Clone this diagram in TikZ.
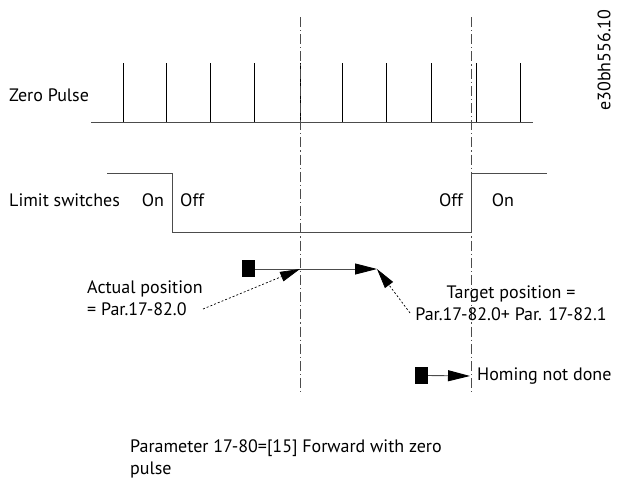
\documentclass[tikz,border=0pt]{standalone}
\usepackage{fontspec}
\setmainfont{PT Sans}
\usepackage{tikz}
\usetikzlibrary{shapes,positioning,arrows.meta,backgrounds,fit}

\tikzset{
  sig/.style={draw=black!70, line width=0.9pt},
  tck/.style={draw=black, line width=0.9pt},
  axis/.style={draw=black!70, line width=0.9pt,
               dash pattern=on 10pt off 3pt on 1.2pt off 3pt},
  lbl/.style={font=\fontsize{18}{22}\selectfont, inner sep=0pt},
  blk/.style={fill=black, minimum width=13pt, minimum height=17pt, inner sep=0pt},
  mv/.style={draw=black!70, line width=0.9pt,
             -{Triangle[length=22pt,width=11pt,color=black]}},
  ptr/.style={draw=black, line width=0.7pt, dash pattern=on 2pt off 2pt,
              -{Triangle[length=20pt,width=10pt]}}
}

\begin{document}
\begin{tikzpicture}[x=1pt, y=-1pt]
  \useasboundingbox (0,0) rectangle (617,482);

  % zero pulse train
  \draw[sig] (91,122) -- (533,122);
  \foreach \x in {123,166,210,254,300,342,386,431,476,520}
    \draw[tck] (\x,63) -- (\x,122);

  % limit switch level
  \draw[sig] (107,173) -- (172,173) -- (172,232) -- (471,232) -- (471,173) -- (547,173);

  % reference lines
  \draw[axis] (300,17) -- (300,395);
  \draw[axis] (471,17) -- (471,392);

  \node[lbl, anchor=west] (ZP) at (9,95) {Zero Pulse};
  \node[lbl, anchor=west] (LS) at (9,200) {Limit switches};
  \node[lbl] (ON1) at (153,200) {On};
  \node[lbl, anchor=west] (OFF1) at (180,200) {Off};
  \node[lbl] (OFF2) at (451,200) {Off};
  \node[lbl] (ON2) at (503,200) {On};

  \node[lbl, rotate=90] (ID) at (604,60) {e30bh556.10};

  % homing move
  \node[blk] (S1) at (248.5,268.5) {};
  \coordinate (T1) at (377,269);
  \coordinate (A1) at (300,269);
  \draw[mv] (S1.east |- T1) -- (T1);

  \node[lbl, align=left, anchor=west] (AP) at (87,298) {
    Actual position\\= Par.17-82.0
  };
  \coordinate (AP1) at (203,309);
  \draw[ptr] (AP1) -- (A1);

  \node[lbl, align=center] (TP) at (511,303.5) {
    Target position =\\Par.17-82.0+ Par. 17-82.1
  };
  \coordinate (TP1) at (410,313);
  \draw[ptr] (TP1) -- (T1);

  % legend
  \node[blk] (S2) at (421.5,375.5) {};
  \node[lbl, anchor=west] (HN) at (477,376) {Homing not done};
  \coordinate (T2) at (470,376);
  \draw[mv] (S2.east) -- (T2);

  \node[lbl, align=left, anchor=west] (PAR) at (130,459) {
    Parameter 17-80=[15] Forward with zero\\pulse
  };

\end{tikzpicture}
\end{document}
